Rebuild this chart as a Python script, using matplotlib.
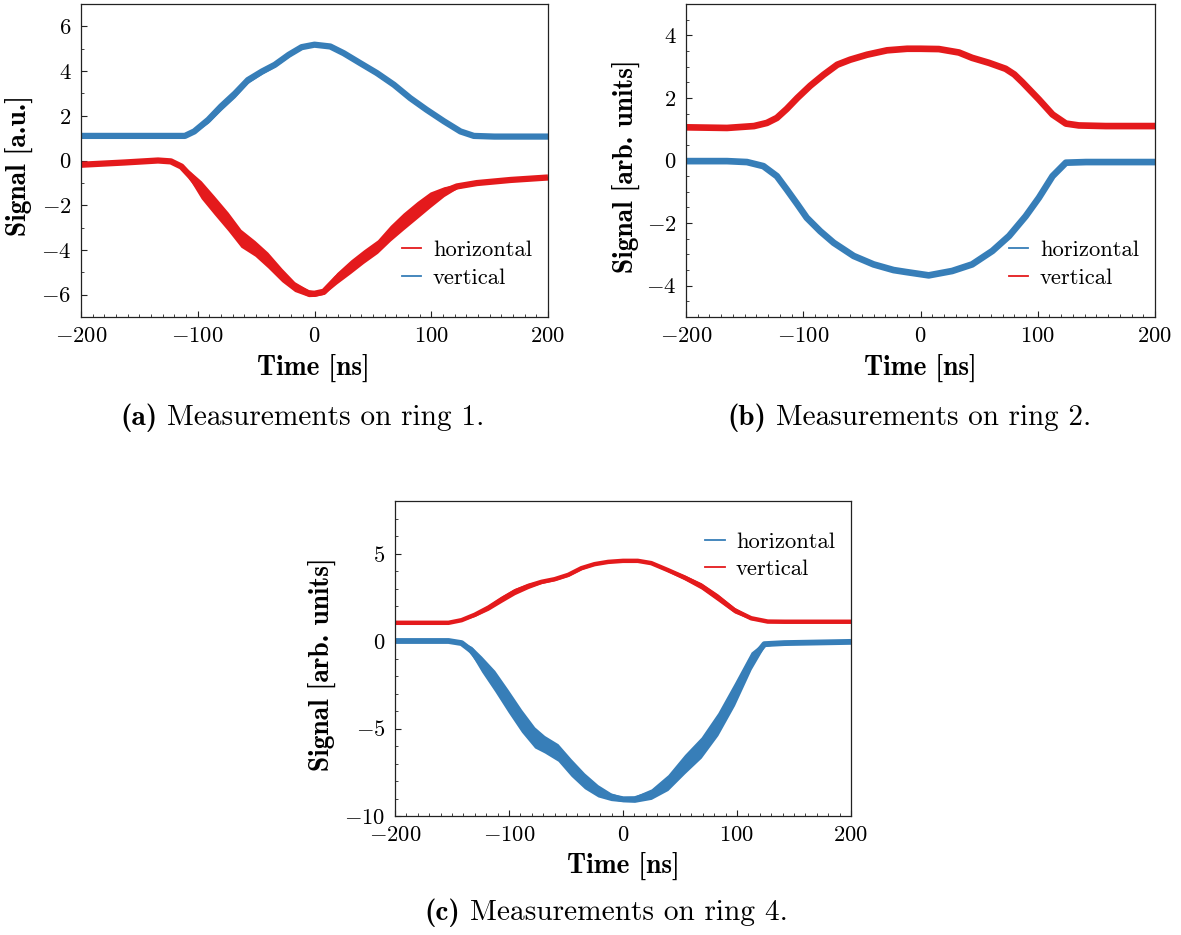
import numpy as np
import matplotlib
matplotlib.use("Agg")
import matplotlib.pyplot as plt
from matplotlib.lines import Line2D
from matplotlib.ticker import MultipleLocator

plt.rcParams['font.family'] = 'serif'
plt.rcParams['font.serif'] = ['cmr10']
plt.rcParams['mathtext.fontset'] = 'cm'
plt.rcParams['axes.formatter.use_mathtext'] = True
plt.rcParams['axes.unicode_minus'] = True

RED = '#e41a1c'
BLUE = '#377eb8'

# ---------------- ring 1 ----------------
a_t_hor = [-200, -163, -134, -123, -114, -106, -97, -86, -74, -63, -51, -40, -28, -17, -5, 0,
           8, 19, 31, 42, 54, 65, 76, 88, 99, 111, 122, 139, 168, 200]
a_y_hor = [-0.19, -0.09, 0.0, -0.04, -0.27, -0.72, -1.31, -1.99, -2.73, -3.48, -3.93, -4.45, -5.12,
           -5.64, -5.94, -5.96, -5.87, -5.27, -4.75, -4.30, -3.85, -3.25, -2.73, -2.21, -1.76, -1.39,
           -1.16, -1.01, -0.87, -0.76]
a_s_hor = [0, 0, 0, 0, 0.08, 0.22, 0.4, 0.42, 0.42, 0.4, 0.35, 0.35, 0.3, 0.22, 0.15, 0.12,
           0.12, 0.25, 0.3, 0.3, 0.3, 0.35, 0.38, 0.38, 0.35, 0.22, 0.1, 0.04, 0, 0]

a_t_ver = [-200, -111, -103, -91, -80, -68, -57, -45, -34, -22, -11, 0, 13.5, 25, 39, 53.5, 68,
           82, 96, 111, 125, 136.5, 154, 200]
a_y_ver = [1.10, 1.10, 1.30, 1.82, 2.42, 3.0, 3.6, 3.98, 4.28, 4.73, 5.07, 5.18, 5.10, 4.80, 4.36,
           3.91, 3.39, 2.79, 2.27, 1.75, 1.30, 1.10, 1.07, 1.07]
a_s_ver = [0, 0, 0.06, 0.15, 0.18, 0.18, 0.15, 0.12, 0.1, 0.1, 0.06, 0.04, 0.04, 0.06, 0.1, 0.12,
           0.12, 0.12, 0.12, 0.1, 0.05, 0, 0, 0]

# ---------------- ring 2 ----------------
b_t_ver = [-200, -165, -142, -131, -122.5, -114, -105, -94, -82.6, -71, -60, -45.6, -28.5, -11.4,
           0, 15.7, 32.8, 44, 58.4, 72.6, 80, 86.9, 101, 112.6, 124, 135, 158, 200]
b_y_ver = [1.06, 1.04, 1.10, 1.20, 1.36, 1.65, 2.00, 2.39, 2.74, 3.06, 3.22, 3.38, 3.52, 3.57,
           3.57, 3.56, 3.45, 3.28, 3.12, 2.93, 2.75, 2.50, 1.95, 1.47, 1.18, 1.12, 1.10, 1.10]

b_t_hor = [-200, -165, -148, -134, -122.5, -114, -105, -97, -85.5, -74, -57, -40, -23, -12.8, 7,
           27, 44, 61.3, 75.6, 89.7, 101, 112.6, 124, 141, 200]
b_y_hor = [-0.02, -0.02, -0.05, -0.18, -0.50, -0.93, -1.40, -1.83, -2.26, -2.63, -3.05, -3.32,
           -3.50, -3.56, -3.67, -3.53, -3.32, -2.89, -2.41, -1.78, -1.19, -0.50, -0.07, -0.05, -0.05]

# ---------------- ring 4 ----------------
c_t_ver = [-200, -153, -141.6, -130, -118, -106.5, -94.9, -83, -71.5, -60, -48, -36.5, -25, -13,
           0, 13, 24.8, 39.4, 54, 68.6, 83.2, 97.8, 112.4, 127, 141.6, 200]
c_y_ver = [1.04, 1.04, 1.19, 1.50, 1.91, 2.39, 2.83, 3.15, 3.38, 3.53, 3.78, 4.16, 4.39, 4.52,
           4.58, 4.58, 4.45, 4.05, 3.63, 3.15, 2.49, 1.76, 1.30, 1.11, 1.10, 1.10]
c_s_ver = [0, 0, 0.03, 0.1, 0.15, 0.18, 0.18, 0.15, 0.1, 0.08, 0.08, 0.08, 0.05, 0.02,
           0, 0.02, 0.05, 0.1, 0.14, 0.18, 0.2, 0.16, 0.08, 0.02, 0, 0]

c_t_hor = [-200, -153, -141.6, -132.8, -124, -112.5, -100.8, -89, -77.5, -68.8, -57, -45.5, -33.8,
           -22, -10.5, 0, 10.2, 24.8, 39.4, 54, 68.6, 83.2, 97.8, 112.4, 124, 141.6, 200]
c_y_hor = [0.0, 0.0, -0.12, -0.56, -1.32, -2.28, -3.42, -4.56, -5.51, -5.90, -6.37, -7.23, -7.99,
           -8.56, -8.90, -9.04, -9.04, -8.75, -8.09, -7.04, -6.09, -4.75, -3.04, -1.13, -0.18,
           -0.12, -0.05]
c_s_hor = [0, 0, 0.08, 0.25, 0.45, 0.6, 0.65, 0.65, 0.6, 0.5, 0.5, 0.5, 0.45, 0.35, 0.22, 0.15,
           0.18, 0.3, 0.45, 0.55, 0.6, 0.65, 0.65, 0.5, 0.15, 0, 0]

W, H = 1181, 935
fig = plt.figure(figsize=(W / 100, H / 100), dpi=100)
renderer = fig.canvas.get_renderer()


def px_axes(l, r, t, b):
    return fig.add_axes([l / W, 1 - b / H, (r - l) / W, (b - t) / H])


def band(ax, t, y, s, color, lw):
    t = np.asarray(t, float)
    y = np.asarray(y, float)
    if s is not None:
        s = np.asarray(s, float)
        ax.fill_between(t, y - s, y + s, color=color, lw=0)
    ax.plot(t, y, color=color, lw=lw, solid_joinstyle='round', solid_capstyle='butt')


def style(ax, ylim, ymaj, ymin):
    ax.set_xlim(-200, 200)
    ax.set_ylim(*ylim)
    ax.xaxis.set_major_locator(MultipleLocator(100))
    ax.xaxis.set_minor_locator(MultipleLocator(10))
    ax.yaxis.set_major_locator(MultipleLocator(ymaj))
    ax.yaxis.set_minor_locator(MultipleLocator(ymin))
    ax.tick_params(which='both', direction='in', top=False, right=False, labelsize=16.3,
                   color='#222222')
    ax.tick_params(which='major', length=4.5, width=0.8, pad=7)
    ax.tick_params(which='minor', length=2.2, width=0.6)
    for sp in ax.spines.values():
        sp.set_linewidth(0.9)
        sp.set_color('#222222')


def legend(ax, entries, loc, bbox):
    handles = [Line2D([], [], color=c, lw=1.3, label=l) for l, c in entries]
    ax.legend(handles=handles, loc=loc, bbox_to_anchor=bbox, frameon=False, fontsize=16.3,
              handlelength=0.85, handletextpad=0.5, labelspacing=0.33, borderaxespad=0)


# (a)
ax1 = px_axes(81, 548, 4, 317)
band(ax1, a_t_hor, a_y_hor, a_s_hor, RED, 4.5)
band(ax1, a_t_ver, a_y_ver, a_s_ver, BLUE, 4.5)
style(ax1, (-7, 7), 2, 1)
legend(ax1, [('horizontal', RED), ('vertical', BLUE)], 'lower right', (0.985, 0.065))

# (b)
ax2 = px_axes(686, 1155, 4, 317)
band(ax2, b_t_ver, b_y_ver, None, RED, 4.8)
band(ax2, b_t_hor, b_y_hor, None, BLUE, 4.8)
style(ax2, (-5, 5), 2, 0.5)
legend(ax2, [('horizontal', BLUE), ('vertical', RED)], 'lower right', (0.985, 0.065))

# (c)
ax3 = px_axes(395, 851, 501, 816)
band(ax3, c_t_ver, c_y_ver, c_s_ver, RED, 3.2)
band(ax3, c_t_hor, c_y_hor, c_s_hor, BLUE, 4.2)
style(ax3, (-10, 8), 5, 1)
legend(ax3, [('horizontal', BLUE), ('vertical', RED)], 'upper right', (0.985, 0.93))

# axis labels: size chosen so that "Time [ns]" is ~113 px wide, as in the reference
probe = fig.text(0, 0, 'Time [ns]', family='cmb10', fontsize=16)
lab_size = 16 * 113.0 / probe.get_window_extent(renderer).width
probe.remove()

bold = dict(family='cmb10', fontsize=lab_size, ha='center', va='center')
fig.text(313 / W, 1 - 368 / H, 'Time [ns]', **bold)
fig.text(920 / W, 1 - 368 / H, 'Time [ns]', **bold)
fig.text(623 / W, 1 - 866 / H, 'Time [ns]', **bold)
fig.text(19 / W, 1 - 166 / H, 'Signal [a.u.]', rotation=90, **bold)
fig.text(626 / W, 1 - 166 / H, 'Signal [arb. units]', rotation=90, **bold)
fig.text(322 / W, 1 - 664 / H, 'Signal [arb. units]', rotation=90, **bold)


# captions: bold tag + roman text, centred as a whole, ~365 px wide
def caption(xc, yc, tag, rest, target=364.0):
    size = 20.0
    t1 = fig.text(0, 0, tag, family='cmb10', fontsize=size, ha='left', va='baseline')
    t2 = fig.text(0, 0, rest, fontsize=size, ha='left', va='baseline')
    w1 = t1.get_window_extent(renderer).width
    w2 = t2.get_window_extent(renderer).width
    gap = 0.33 * size * 100 / 72
    k = target / (w1 + gap + w2)
    size *= k
    t1.set_fontsize(size)
    t2.set_fontsize(size)
    w1 *= k
    w2 *= k
    gap *= k
    x0 = xc - (w1 + gap + w2) / 2
    yb = yc + 7
    t1.set_position((x0 / W, 1 - yb / H))
    t2.set_position(((x0 + w1 + gap) / W, 1 - yb / H))


caption(302.5, 418, '(a)', 'Measurements on ring 1.')
caption(909.5, 418, '(b)', 'Measurements on ring 2.')
caption(606.5, 913, '(c)', 'Measurements on ring 4.')

fig.savefig('out.png', dpi=100)
